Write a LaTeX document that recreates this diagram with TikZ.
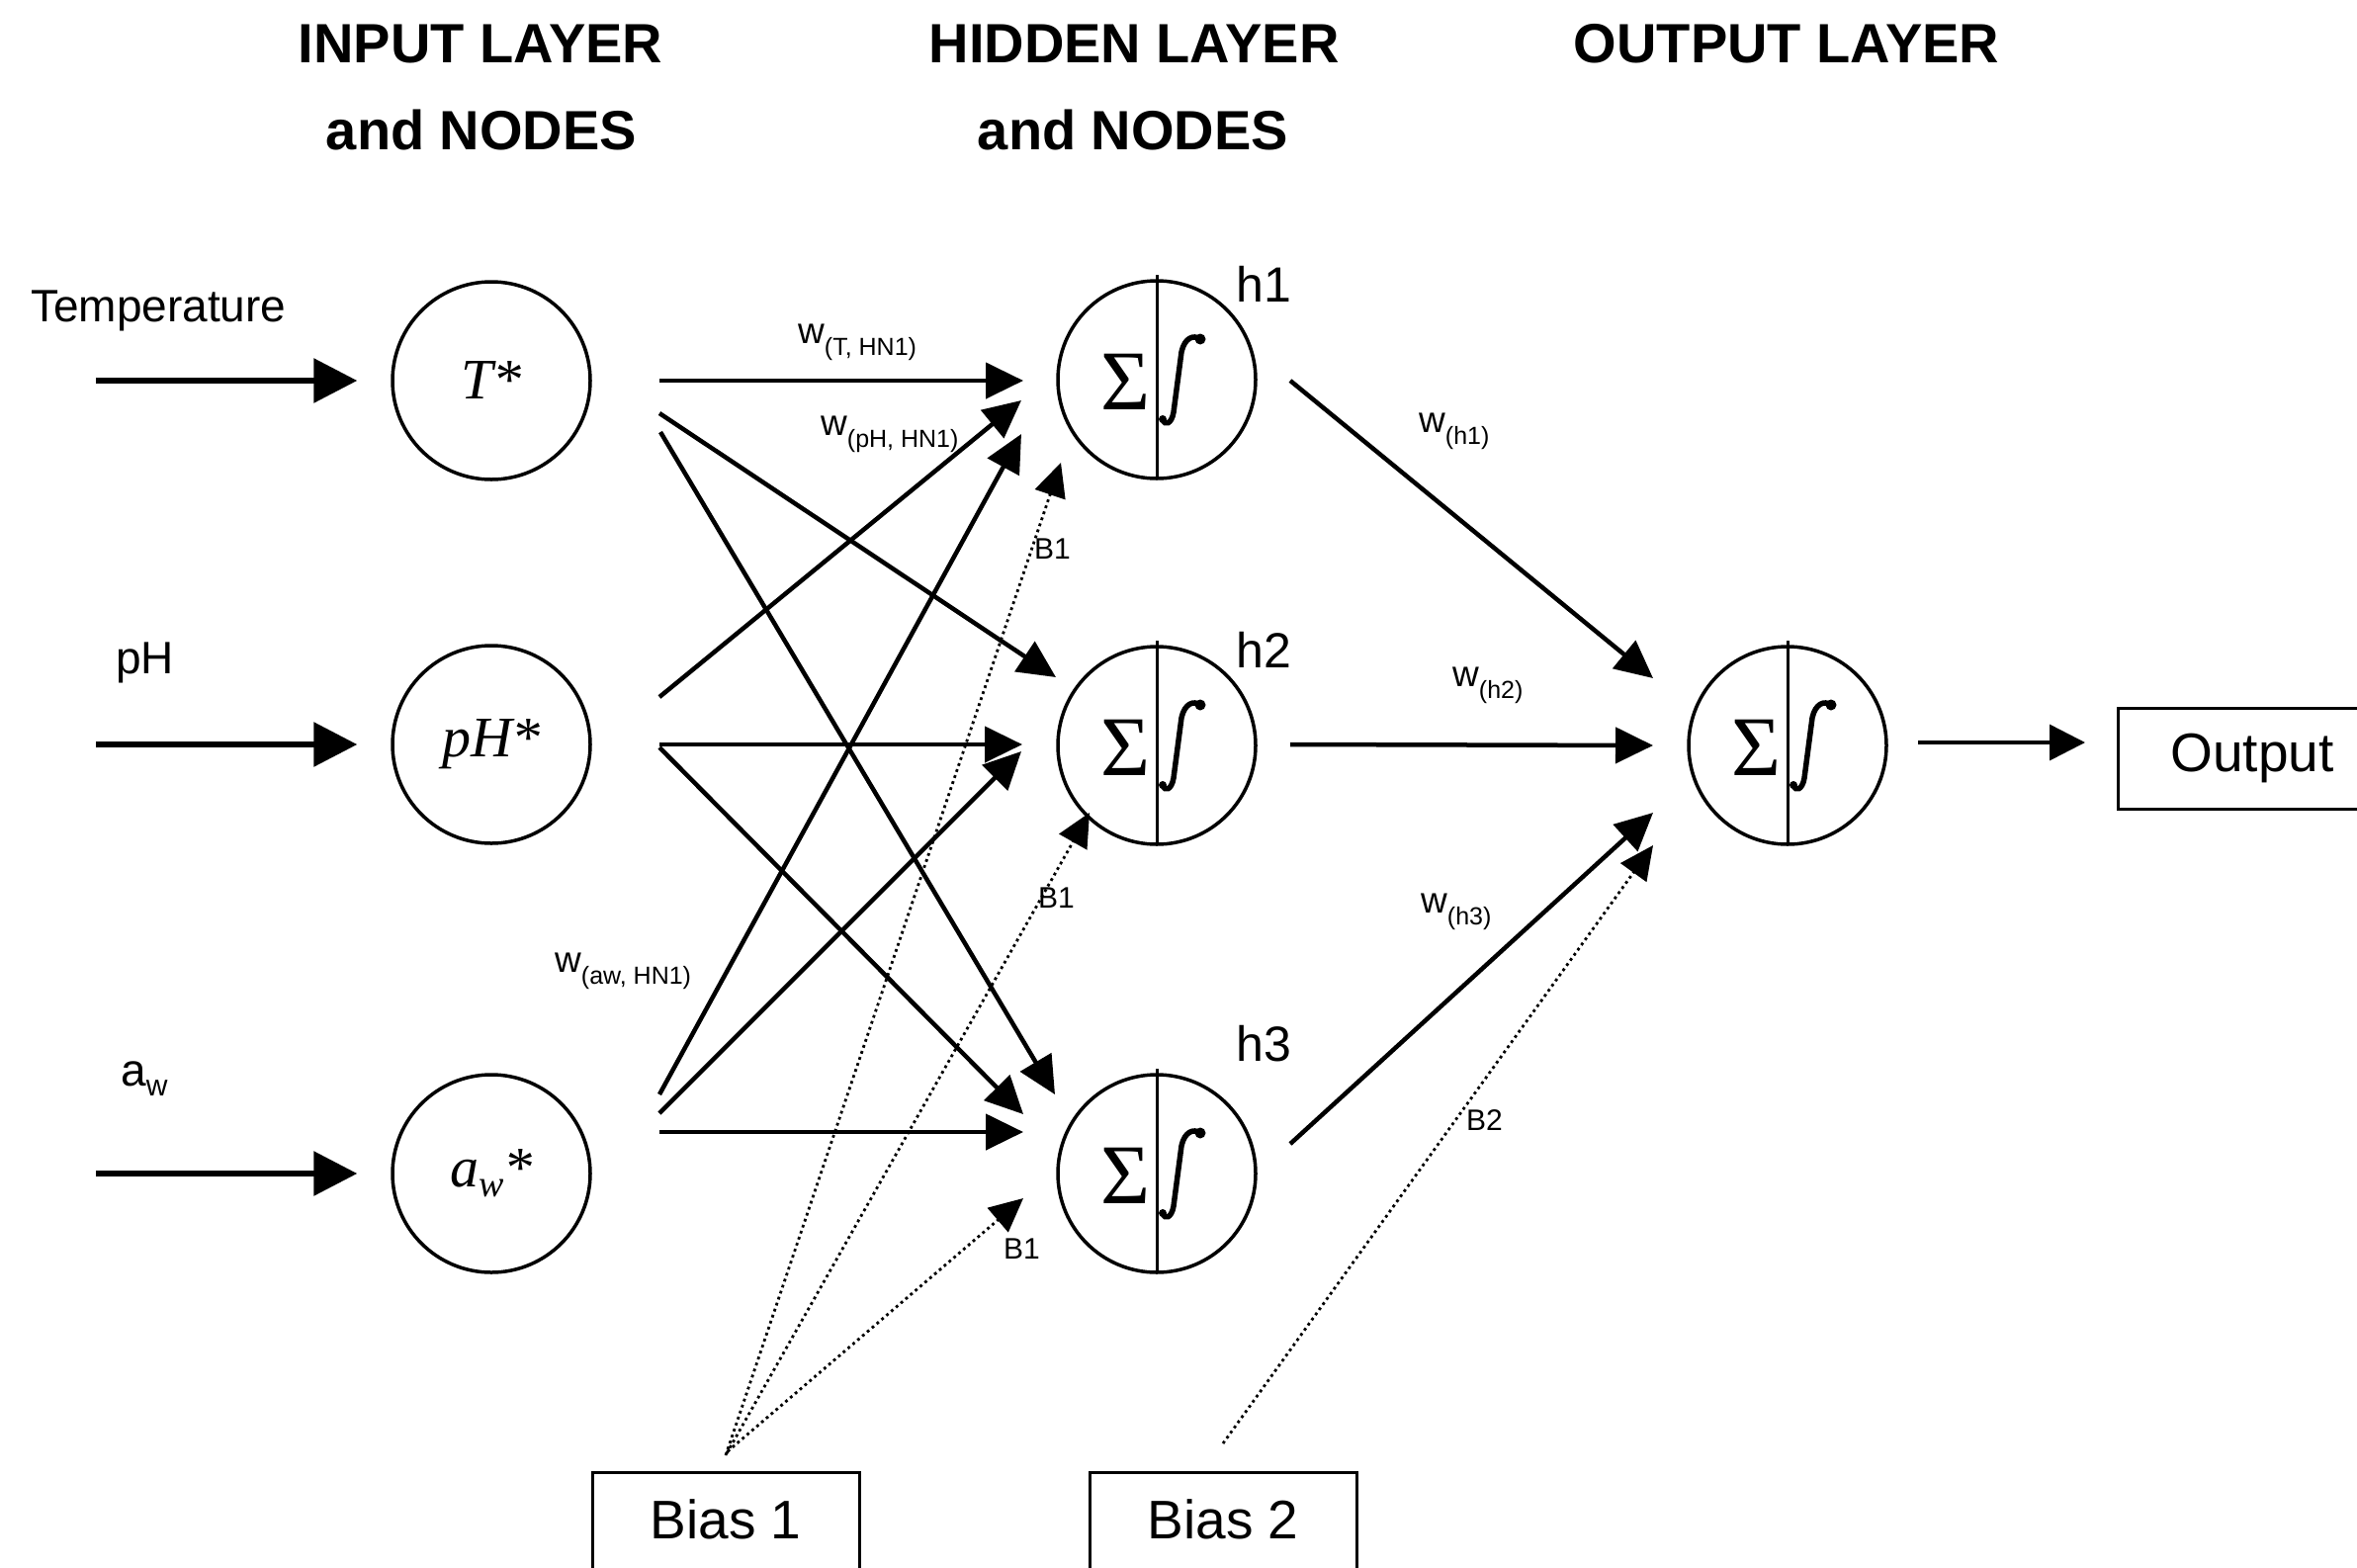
\documentclass[tikz,border=0pt]{standalone}
\usepackage{fontspec}
\setmainfont{Liberation Sans}
\newfontfamily\seriffont{Liberation Serif}
\usetikzlibrary{arrows.meta,calc}
\newcommand\fsz[1]{\fontsize{#1}{#1}\selectfont}
\newcommand\wlab[1]{{\fsz{37}w}\raisebox{-12pt}{\fsz{25}#1}}
\begin{document}
\begin{tikzpicture}[x=1pt,y=-1pt,
  inneuron/.style={circle,draw,line width=3.5pt,minimum size=200pt,inner sep=0pt,font=\seriffont\itshape\fsz{58}},
  neuron/.style={circle,draw,line width=3.5pt,minimum size=200pt,inner sep=0pt},
  sigma/.style={inner sep=0pt,font=\seriffont\fsz{86}},
  inarrow/.style={line width=6pt,-{Triangle[length=44pt,width=44pt]}},
  warrow/.style={line width=4.5pt,-{Triangle[length=38pt,width=36pt]}},
  barrow/.style={line width=2.8pt,dash pattern=on 2.8pt off 3.6pt,-{Triangle[length=34pt,width=32pt]}},
  oarrow/.style={line width=3.5pt,-{Triangle[length=36pt,width=36pt]}},
  lab/.style={anchor=base west,inner sep=0pt,font=\fsz{46}},
  ttl/.style={anchor=base,inner sep=0pt,font=\bfseries\fsz{56}},
  hlab/.style={anchor=base west,inner sep=0pt,font=\fsz{50}},
  blab/.style={anchor=base west,inner sep=0pt,font=\fsz{30}},
  wl/.style={anchor=base west,inner sep=0pt},
  boxnode/.style={draw,line width=3pt,inner sep=0pt,font=\fsz{55}},
  integ/.style={line width=5.5pt,line cap=round}
]
\useasboundingbox (0,0) rectangle (2384,1585);
\fill[white] (0,0) rectangle (2384,1585);

% titles
\node[ttl] (t1) at (486,63) {INPUT LAYER};
\node[ttl] (t1b) at (487,151) {and NODES};
\node[ttl] (t2) at (1147,63) {HIDDEN LAYER};
\node[ttl] (t2b) at (1146,151) {and NODES};
\node[ttl] (t3) at (1807,63) {OUTPUT LAYER};

% input labels
\node[lab] (ltemp) at (31,325) {Temperature};
\node[lab] (lph) at (117,681) {pH};
\node[lab] (law) at (122,1098) {a\raisebox{-10pt}{\fsz{30}w}};

% input neurons
\node[inneuron] (T) at (497,385) {T*};
\node[inneuron] (P) at (497,753) {pH*};
\node[inneuron] (A) at (497,1187) {a\raisebox{-10pt}{\fsz{38}w}*};

% hidden / output neurons
\newcommand\neuron[3]{%
  \node[neuron] (#1) at (#2,#3) {};
  \draw[line width=3pt] ($(#1)+(0,-106)$) -- ($(#1)+(0,101)$);
  \node[sigma] (#1s) at ($(#1)+(-31,2)$) {Σ};
  \draw[integ] ($(#1)+(6,40)$) .. controls ($(#1)+(8,47)$) and ($(#1)+(15,45)$) .. ($(#1)+(17,33)$)
     -- ($(#1)+(25,-28)$) .. controls ($(#1)+(28,-42)$) and ($(#1)+(37,-46)$) .. ($(#1)+(44,-41)$);
  \fill ($(#1)+(44,-41)$) circle (5.5);
  \fill ($(#1)+(6,40)$) circle (4);
}
\neuron{H1}{1170}{384}
\neuron{H2}{1170}{754}
\neuron{H3}{1170}{1187}
\neuron{O}{1808}{754}

\node[hlab] (lh1) at (1250,305) {h1};
\node[hlab] (lh2) at (1250,675) {h2};
\node[hlab] (lh3) at (1250,1073) {h3};

% output and bias boxes
\node[boxnode,anchor=west,inner xsep=53pt,minimum height=102pt] (outbox) at (2141,767) {Output};
\node[boxnode,anchor=north,minimum width=270pt,text height=67pt,text depth=70pt] (bias1) at (734,1488) {Bias 1};
\node[boxnode,anchor=north,minimum width=270pt,text height=67pt,text depth=70pt] (bias2) at (1237,1488) {Bias 2};

% input arrows
\coordinate (tin) at (97,385);
\coordinate (pin) at (97,753);
\coordinate (ain) at (97,1187);
\draw[inarrow,shorten >=34pt] (tin) -- (T);
\draw[inarrow,shorten >=34pt] (pin) -- (P);
\draw[inarrow,shorten >=34pt] (ain) -- (A);

% input -> hidden
\draw[warrow] ($(T)+(170,0)$) -- ($(H1)+(-135,1)$);
\draw[warrow] ($(T)+(170,33)$) -- ($(H2)+(-102,-69)$);
\draw[warrow] ($(T)+(171,52)$) -- ($(H3)+(-103,-80)$);
\draw[warrow] ($(P)+(170,-48)$) -- ($(H1)+(-137,21)$);
\draw[warrow] ($(P)+(170,0)$) -- ($(H2)+(-136,-1)$);
\draw[warrow] ($(P)+(170,3)$) -- ($(H3)+(-135,-60)$);
\draw[warrow] ($(A)+(170,-80)$) -- ($(H1)+(-137,55)$);
\draw[warrow] ($(A)+(170,-61)$) -- ($(H2)+(-137,6)$);
\draw[warrow] ($(A)+(170,-42)$) -- ($(H3)+(-135,-42)$);

% hidden -> output
\draw[warrow] ($(H1)+(135,1)$) -- ($(O)+(-136,-68)$);
\draw[warrow] ($(H2)+(135,-1)$) -- ($(O)+(-136,0)$);
\draw[warrow] ($(H3)+(135,-30)$) -- ($(O)+(-136,68)$);

% output arrow
\draw[oarrow] ($(O)+(132,-3)$) -- ($(outbox.west)+(-32,-16)$);

% bias arrows
\draw[barrow] ($(bias1.north)+(0,-16)$) -- ($(H1)+(-97,84)$);
\draw[barrow] ($(bias1.north)+(1,-18)$) -- ($(H2)+(-68,68)$);
\draw[barrow] ($(bias1.north)+(2,-20)$) -- ($(H3)+(-135,25)$);
\draw[barrow] ($(bias2.north)+(0,-28)$) -- ($(O)+(-136,101)$);

% bias labels
\node[blab] (b1a) at (1046,565) {B1};
\node[blab] (b1b) at (1050,918) {B1};
\node[blab] (b1c) at (1015,1273) {B1};
\node[blab] (b2) at (1483,1143) {B2};

% weight labels
\node[wl] (w1) at (807,347) {\wlab{(T, HN1)}};
\node[wl] (w2) at (830,440) {\wlab{(pH, HN1)}};
\node[wl] (w3) at (561,983) {\wlab{(aw, HN1)}};
\node[wl] (w4) at (1435,437) {\wlab{(h1)}};
\node[wl] (w5) at (1469,694) {\wlab{(h2)}};
\node[wl] (w6) at (1437,923) {\wlab{(h3)}};
\end{tikzpicture}
\end{document}
